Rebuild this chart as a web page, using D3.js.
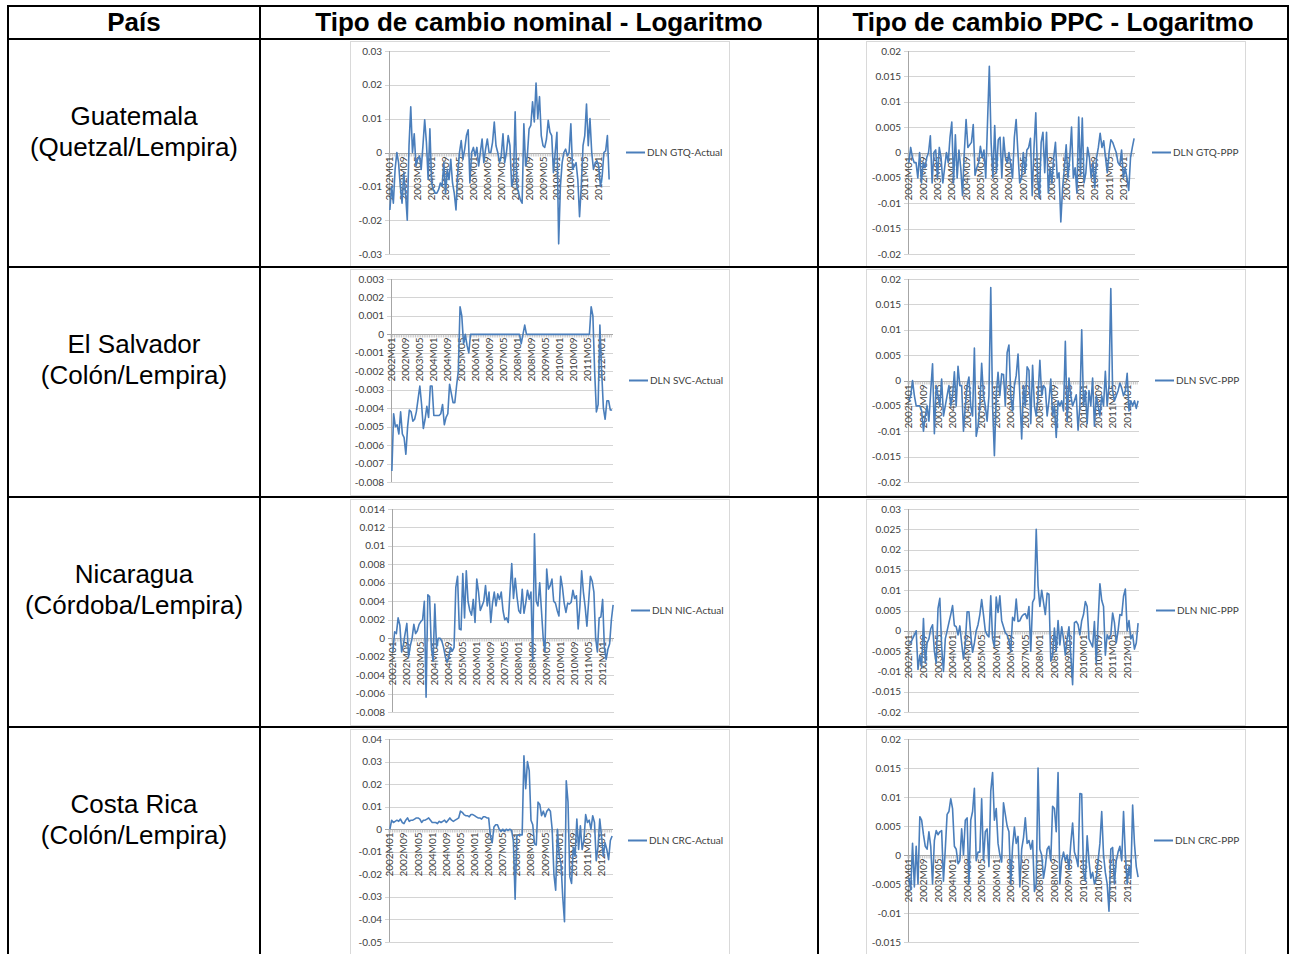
<!DOCTYPE html>
<html>
	<head>
		<meta charset="utf-8">
		<script src="https://cdnjs.cloudflare.com/ajax/libs/d3/7.8.5/d3.min.js" charset="utf-8"></script>
		<style>
			body { margin: 0; background: #fff; }
		</style>
	</head>
	<body>
		<div id="chart"></div>

		<script>

////// Data //////

	// monthly categories 2002M01 .. 2012M07
	var months = [];
	for (var yr = 2002; yr <= 2012; yr++) {
		for (var mo = 1; mo <= 12; mo++) {
			if (yr == 2012 && mo > 7) break;
			months.push(yr + "M" + (mo < 10 ? "0" + mo : mo));
		}
	}

	var headers = ["País", "Tipo de cambio nominal - Logaritmo", "Tipo de cambio PPC - Logaritmo"];
	var countries = [["Guatemala", "(Quetzal/Lempira)"], ["El Salvador", "(Colón/Lempira)"],
		["Nicaragua", "(Córdoba/Lempira)"], ["Costa Rica", "(Colón/Lempira)"]];
	var seriesNames = [["DLN GTQ-Actual", "DLN GTQ-PPP"], ["DLN SVC-Actual", "DLN SVC-PPP"],
		["DLN NIC-Actual", "DLN NIC-PPP"], ["DLN CRC-Actual", "DLN CRC-PPP"]];

	var gtqActual = [
		-0.017,-0.010,-0.015,-0.005,0.000,-0.003,-0.010,-0.015,-0.006,-0.012,
		-0.020,0.002,0.0135,0.000,0.0055,-0.004,-0.002,-0.001,-0.005,0.002,
		0.0097,0.003,-0.008,0.007,-0.009,-0.011,-0.012,-0.012,-0.011,-0.009,
		-0.010,-0.003,-0.012,-0.005,-0.008,-0.002,-0.009,-0.012,-0.017,-0.006,
		0.000,0.0035,-0.002,0.001,0.005,0.0067,-0.009,0.000,0.0015,-0.001,
		0.0015,-0.004,0.000,0.004,-0.003,0.001,0.004,0.000,0.000,0.003,
		0.009,0.002,0.000,-0.003,-0.001,0.0055,-0.003,0.000,0.005,0.002,
		-0.010,-0.008,0.012,-0.010,-0.012,-0.014,-0.015,0.0085,-0.004,-0.001,
		0.007,0.008,0.015,0.009,0.0205,0.010,0.0165,0.005,0.002,0.0015,
		0.004,0.0095,0.006,0.005,-0.006,0.000,0.006,-0.027,-0.010,-0.003,
		0.000,0.001,-0.001,0.000,0.0085,-0.005,-0.004,-0.003,-0.008,-0.019,
		-0.010,0.002,0.005,0.0143,0.002,0.010,0.000,-0.005,-0.003,-0.0025,
		-0.004,-0.010,-0.007,0.000,0.0005,0.005,-0.008];

	var gtqPPP = [
		-0.002,0.001,-0.001,-0.002,-0.002,-0.005,0.000,-0.006,-0.002,-0.003,
		-0.001,0.000,0.0033,-0.006,0.000,0.0005,-0.005,0.001,-0.001,-0.006,
		-0.003,0.000,-0.002,0.003,0.006,-0.006,0.0035,-0.005,0.0005,-0.003,
		-0.0085,0.000,0.0065,0.001,0.0015,0.002,0.0055,-0.0045,-0.003,-0.002,
		0.0012,-0.001,0.0005,-0.005,0.006,0.017,0.002,-0.005,0.0053,-0.004,
		0.0025,0.003,-0.005,0.003,-0.001,-0.002,0.000,-0.0025,-0.005,0.003,
		0.0065,0.000,-0.006,-0.005,0.000,-0.004,0.0005,0.001,0.0028,-0.0085,
		0.001,0.0078,-0.005,-0.009,0.002,0.004,-0.004,0.004,-0.008,-0.003,
		-0.006,-0.001,0.002,-0.005,-0.004,-0.0137,-0.007,-0.003,0.0015,-0.005,
		-0.001,0.005,-0.005,-0.003,-0.008,0.007,-0.0045,0.0068,-0.006,-0.004,
		0.001,-0.001,-0.005,-0.002,-0.007,-0.001,0.001,0.0038,0.001,0.0023,
		-0.001,-0.004,0.000,0.0025,0.002,0.001,0.000,-0.002,-0.0025,0.0005,
		-0.005,-0.003,-0.005,-0.0075,-0.001,0.001,0.0028];

	var svcActual = [
		-0.0074,-0.0043,-0.0050,-0.0049,-0.0054,-0.0042,-0.0054,-0.0056,-0.0065,-0.0050,
		-0.0041,-0.0042,-0.0047,-0.0046,-0.0042,-0.0035,-0.0028,-0.0038,-0.0051,-0.0046,
		-0.0039,-0.0045,-0.0028,-0.0028,-0.0044,-0.0044,-0.0044,-0.0044,-0.0043,-0.0038,
		-0.0049,-0.0045,-0.0043,-0.0027,-0.0032,-0.0037,-0.0037,-0.0028,-0.0020,0.0015,
		0.0010,-0.0005,0,-0.0006,-0.0010,0,0,0,0,0,
		0,0,0,0,0,0,0,0,0,0,
		0,0,0,0,0,0,0,0,0,0,
		0,0,0,0,-0.0005,0,0.0005,0,0,0,
		0,0,0,0,0,0,0,0,0,0,
		0,0,0,0,0,0,0,0,0,0,
		0,0,0,0,0,0,0,0,0,0,
		0,0,0,0,0.0015,0.0010,-0.0020,-0.0042,-0.0038,0.0005,
		-0.0020,-0.0040,-0.0046,-0.0036,-0.0036,-0.0041,-0.0041];

	var svcPPP = [
		-0.004,-0.003,0.000,-0.003,-0.005,-0.005,-0.005,-0.006,-0.010,-0.007,
		-0.005,-0.008,-0.002,0.0033,-0.0105,-0.001,-0.003,-0.005,0.0003,-0.007,
		-0.005,-0.003,-0.001,-0.005,-0.003,0.0017,-0.005,0.0028,-0.001,-0.001,
		-0.010,-0.005,-0.001,0.0007,-0.005,-0.007,0.0064,-0.011,-0.009,-0.005,
		0.0034,-0.003,-0.005,-0.008,-0.003,0.0183,-0.005,-0.0148,-0.003,0.0016,
		-0.003,0.0013,0.0012,-0.005,0.0055,0.007,-0.003,-0.006,-0.001,0.001,
		0.0052,-0.003,-0.0115,-0.001,-0.005,0.0027,0.002,-0.0085,0.003,-0.005,
		-0.007,-0.003,0.004,-0.003,-0.001,-0.0015,-0.007,-0.004,0.0003,-0.007,
		-0.005,-0.0112,-0.004,-0.005,-0.004,-0.006,0.0077,-0.008,0.0005,-0.003,
		-0.005,-0.004,-0.0028,-0.0098,-0.005,0.010,-0.005,-0.002,-0.0085,-0.002,
		-0.005,0.0005,-0.009,-0.003,-0.005,-0.007,-0.003,-0.005,0.0018,-0.005,
		-0.001,0.0181,-0.002,-0.004,-0.003,-0.002,-0.0005,-0.0015,-0.003,-0.002,
		0.0014,-0.006,-0.004,-0.005,-0.004,-0.0055,-0.004];

	var nicActual = [
		-0.0015,0.0007,0.0005,0.0022,0.0014,-0.0015,-0.0007,0.0005,0.0016,-0.0020,
		-0.0008,0.0000,0.0015,0.0005,0.0008,0.0015,0.0018,0.0020,0.0040,-0.0064,
		0.0047,0.0045,-0.0010,-0.0025,0.0037,-0.0010,0.0000,0.0000,-0.0003,-0.0010,
		-0.0020,-0.0026,-0.0020,-0.0010,-0.0014,-0.0010,0.0055,0.0067,0.0010,0.0009,
		0.0070,0.0022,0.0073,0.0040,0.0030,0.0025,0.0042,0.0017,0.0064,0.0050,
		0.0030,0.0035,0.0040,0.0057,0.0035,0.0050,0.0017,0.0038,0.0050,0.0035,
		0.0048,0.0042,0.0050,0.0030,0.0020,0.0022,0.0017,0.0050,0.0081,0.0043,
		0.0065,0.0045,0.0030,0.0027,0.0053,0.0027,0.0038,0.0052,0.0042,0.0050,
		-0.0025,0.0113,0.0040,0.0035,0.0060,0.0030,0.0000,-0.0015,0.0075,0.0053,
		0.0057,0.0064,0.0040,0.0038,0.0030,0.0024,0.0067,0.0055,0.0038,0.0028,
		0.0038,0.0037,0.0039,0.0052,0.0043,0.0046,0.0010,0.0035,0.0073,0.0050,
		0.0034,0.0013,0.0040,0.0067,0.0062,0.0050,0.0000,-0.0015,0.0022,0.0023,
		0.0042,-0.0010,-0.0023,-0.0012,-0.0006,0.0020,0.0036];

	var nicPPP = [
		-0.003,-0.003,-0.002,-0.001,0.000,-0.0095,-0.006,-0.009,0.003,-0.008,
		-0.003,-0.002,0.0005,0.0015,-0.005,-0.008,0.0055,0.008,-0.004,-0.010,
		-0.002,0.000,0.002,0.004,0.0062,0.0013,0.001,-0.001,0.0012,-0.003,
		-0.007,-0.003,0.0047,0.0047,-0.001,-0.0053,-0.003,0.000,0.0015,0.004,
		0.0077,0.004,0.000,-0.001,-0.0015,0.0086,-0.002,-0.004,0.0083,0.0045,
		0.0086,0.0025,0.001,-0.0005,-0.001,-0.0025,-0.005,0.0033,0.0025,0.0078,
		0.0023,0.0025,0.0035,0.004,0.0042,0.003,0.006,-0.005,0.007,0.008,
		0.025,0.011,0.006,0.010,0.007,0.004,0.0093,0.009,-0.0075,-0.006,
		0.0007,-0.005,0.0025,-0.0035,0.001,-0.002,-0.006,-0.002,0.001,-0.006,
		-0.0133,0.002,0.0023,0.0015,-0.001,0.0025,0.004,0.0072,0.006,-0.002,
		-0.003,-0.004,0.0023,-0.008,0.002,0.0116,0.0075,0.006,-0.006,-0.001,
		-0.002,-0.001,0.0044,0.002,-0.003,0.000,0.004,0.0038,0.0085,0.0103,
		0.000,0.0025,-0.002,-0.001,-0.0045,-0.003,0.0019];

	var crcActual = [
		0.000,0.004,0.003,0.0035,0.004,0.0035,0.0045,0.003,0.0025,0.004,
		0.005,0.0035,0.004,0.004,0.0045,0.005,0.005,0.0045,0.003,0.004,
		0.004,0.0045,0.005,0.004,0.003,0.003,0.003,0.0025,0.0035,0.003,
		0.0035,0.004,0.003,0.004,0.005,0.004,0.0035,0.004,0.0045,0.005,
		0.008,0.0075,0.0065,0.006,0.006,0.0055,0.0065,0.0065,0.006,0.0055,
		0.005,0.005,0.0045,0.0055,0.0055,0.005,0.005,-0.003,-0.006,0.001,
		0.002,0.002,0.000,-0.001,0.000,-0.001,0.000,-0.0005,0.000,-0.0005,
		-0.005,-0.031,-0.003,-0.0025,-0.0025,-0.0025,0.0325,0.018,0.030,0.026,
		0.004,0.002,-0.0065,-0.007,0.012,0.011,0.006,0.008,0.0055,0.008,
		0.009,0.008,0.000,-0.020,-0.027,0.000,-0.012,-0.015,-0.030,-0.041,
		0.0215,0.012,-0.021,-0.024,-0.008,-0.012,0.0045,-0.009,0.0015,-0.009,
		-0.005,0.0065,0.003,0.004,0.000,0.006,0.003,-0.014,-0.008,0.0045,
		-0.003,-0.012,-0.006,-0.009,-0.0135,-0.005,-0.003];

	var crcPPP = [
		-0.004,-0.006,0.002,-0.0055,0.0015,-0.005,0.0066,0.006,0.0035,0.0015,
		0.001,0.004,0.0015,-0.005,0.0025,0.0042,0.0035,0.004,0.0042,-0.0045,
		0.001,0.007,0.0075,0.0097,0.008,0.0015,0.001,-0.0015,-0.001,0.0045,
		0.000,0.006,0.0064,-0.005,0.006,0.0075,0.0115,-0.001,0.0005,0.0005,
		0.0097,-0.001,0.004,0.0045,-0.002,0.011,0.0142,0.006,0.008,0.002,
		0.000,-0.0012,0.009,0.007,0.005,0.004,-0.005,0.0015,0.0048,0.002,
		0.0032,-0.0055,0.001,0.003,0.0064,0.002,0.0025,0.001,0.0025,-0.0063,
		-0.005,0.015,0.001,0.000,-0.004,-0.002,0.001,0.0015,-0.001,0.0084,
		0.008,0.004,0.0142,-0.005,-0.001,0.0005,-0.001,0.000,-0.0025,0.002,
		0.0055,0.0005,-0.0005,-0.002,0.0106,0.0105,-0.003,-0.0045,0.0033,-0.001,
		-0.004,-0.003,-0.005,-0.004,-0.001,0.002,0.0075,0.000,-0.003,-0.005,
		-0.0097,0.001,0.0013,-0.005,-0.001,0.0005,0.0015,-0.001,0.0075,0.000,
		-0.005,-0.002,-0.004,0.0086,0.002,-0.002,-0.0038];

	// y tick values of each small chart
	var ticksGTQActual = [-0.03, -0.02, -0.01, 0, 0.01, 0.02, 0.03];
	var ticksGTQPPP = [-0.02, -0.015, -0.01, -0.005, 0, 0.005, 0.01, 0.015, 0.02];
	var ticksSVCActual = [-0.008, -0.007, -0.006, -0.005, -0.004, -0.003, -0.002, -0.001, 0, 0.001, 0.002, 0.003];
	var ticksSVCPPP = [-0.02, -0.015, -0.01, -0.005, 0, 0.005, 0.01, 0.015, 0.02];
	var ticksNICActual = [-0.008, -0.006, -0.004, -0.002, 0, 0.002, 0.004, 0.006, 0.008, 0.01, 0.012, 0.014];
	var ticksNICPPP = [-0.02, -0.015, -0.01, -0.005, 0, 0.005, 0.01, 0.015, 0.02, 0.025, 0.03];
	var ticksCRCActual = [-0.05, -0.04, -0.03, -0.02, -0.01, 0, 0.01, 0.02, 0.03, 0.04];
	var ticksCRCPPP = [-0.015, -0.01, -0.005, 0, 0.005, 0.01, 0.015, 0.02];

	var seriesValues = [[gtqActual, gtqPPP], [svcActual, svcPPP], [nicActual, nicPPP], [crcActual, crcPPP]];
	var seriesTicks = [[ticksGTQActual, ticksGTQPPP], [ticksSVCActual, ticksSVCPPP],
		[ticksNICActual, ticksNICPPP], [ticksCRCActual, ticksCRCPPP]];

////// Layout //////

	var W = 1289, H = 954;
	var rowTops = [39, 267, 497, 727];
	var colLines = [8, 260, 818, 1288];
	var frames = [[350, 729], [866, 1245]];
	// plot left / right and legend start, per row and column
	var plotBox = [
		[[389, 610, 626], [908, 1135, 1152]],
		[[391, 613, 629], [908, 1139, 1155]],
		[[392, 614, 631], [908, 1139, 1156]],
		[[389, 613, 628], [908, 1139, 1154]]
	];
	var blue = "#4a7ebb";
	var smallFont = "Lato, 'Open Sans', sans-serif";
	var bigFont = "'Liberation Sans', Arial, sans-serif";

	var svg = d3.select("#chart")
		.append("svg")
		.attr("width", W)
		.attr("height", H);

	svg.append("rect").attr("width", W).attr("height", H).attr("fill", "#fff");

////// Small charts //////

	rowTops.forEach(function(top, r) {
		[0, 1].forEach(function(c) {
			var values = seriesValues[r][c];
			var ticks = seriesTicks[r][c];
			var pb = plotBox[r][c];
			var y0px = top + 12, y1px = top + 215;

			var g = svg.append("g");

			// chart frame
			g.append("rect")
				.attr("x", frames[c][0] + 0.5)
				.attr("y", top + 2.5)
				.attr("width", frames[c][1] - frames[c][0])
				.attr("height", r == 3 ? 240 : 226)
				.attr("fill", "#fff")
				.attr("stroke", "#d9d9d9");

			var x = d3.scaleBand().domain(months).range([pb[0], pb[1]]);
			var y = d3.scaleLinear().domain([ticks[0], ticks[ticks.length - 1]]).range([y1px, y0px]);

			// gridlines + y labels
			g.selectAll(".grid")
				.data(ticks)
				.enter().append("line")
				.attr("x1", pb[0] - 4)
				.attr("x2", pb[1])
				.attr("y1", function(d) { return Math.round(y(d)) + 0.5; })
				.attr("y2", function(d) { return Math.round(y(d)) + 0.5; })
				.attr("stroke", function(d) { return d == 0 ? "#a6a6a6" : "#d4d4d4"; });

			g.selectAll(".ylab")
				.data(ticks)
				.enter().append("text")
				.attr("x", pb[0] - 7)
				.attr("y", function(d) { return y(d); })
				.attr("dy", "0.35em")
				.attr("text-anchor", "end")
				.style("font-family", smallFont)
				.style("font-size", "10px")
				.style("fill", "#404040")
				.text(function(d) { return String(d); });

			// y axis line
			g.append("line")
				.attr("x1", pb[0] + 0.5).attr("x2", pb[0] + 0.5)
				.attr("y1", y1px).attr("y2", y0px)
				.attr("stroke", "#a6a6a6");

			// category ticks on the zero line
			var zy = Math.round(y(0)) + 0.5;
			g.selectAll(".xtick")
				.data(months)
				.enter().append("line")
				.attr("x1", function(d) { return x(d); })
				.attr("x2", function(d) { return x(d); })
				.attr("y1", zy)
				.attr("y2", zy + 3)
				.attr("stroke", "#b8b8b8")
				.attr("stroke-width", 0.8);

			// rotated category labels
			g.selectAll(".xlab")
				.data(months.filter(function(d, i) { return i % 8 == 0; }))
				.enter().append("text")
				.attr("transform", function(d) {
					return "translate(" + (x(d) + x.bandwidth() / 2) + "," + (zy + 3) + ") rotate(-90)";
				})
				.attr("dy", "0.35em")
				.attr("text-anchor", "end")
				.style("font-family", smallFont)
				.style("font-size", "10px")
				.style("fill", "#404040")
				.text(function(d) { return d; });

			// series line
			var line = d3.line()
				.x(function(d, i) { return x(months[i]) + x.bandwidth() / 2; })
				.y(function(d) { return y(d); });

			g.append("path")
				.datum(values)
				.attr("d", line)
				.attr("fill", "none")
				.attr("stroke", blue)
				.attr("stroke-width", 1.6)
				.attr("stroke-linejoin", "round");

			// legend
			var ly = (y0px + y1px) / 2;
			g.append("line")
				.attr("x1", pb[2]).attr("x2", pb[2] + 19)
				.attr("y1", ly).attr("y2", ly)
				.attr("stroke", blue)
				.attr("stroke-width", 2);
			g.append("text")
				.attr("x", pb[2] + 21)
				.attr("y", ly)
				.attr("dy", "0.35em")
				.style("font-family", smallFont)
				.style("font-size", "10px")
				.style("fill", "#404040")
				.text(seriesNames[r][c]);
		});

		// country name
		svg.selectAll(".country" + r)
			.data(countries[r])
			.enter().append("text")
			.attr("x", (colLines[0] + colLines[1]) / 2)
			.attr("y", function(d, i) { return top + 86 + i * 31; })
			.attr("text-anchor", "middle")
			.style("font-family", bigFont)
			.style("font-size", "26px")
			.style("fill", "#000")
			.text(function(d) { return d; });
	});

////// Table header and borders //////

	svg.selectAll(".header")
		.data(headers)
		.enter().append("text")
		.attr("x", function(d, i) { return (colLines[i] + colLines[i + 1]) / 2; })
		.attr("y", 31)
		.attr("text-anchor", "middle")
		.style("font-family", bigFont)
		.style("font-size", "26px")
		.style("font-weight", "bold")
		.style("fill", "#000")
		.text(function(d) { return d; });

	var hLines = [6].concat(rowTops);
	svg.selectAll(".hline")
		.data(hLines)
		.enter().append("line")
		.attr("x1", colLines[0] - 1)
		.attr("x2", colLines[3] + 1)
		.attr("y1", function(d) { return d; })
		.attr("y2", function(d) { return d; })
		.attr("stroke", "#000")
		.attr("stroke-width", 2);

	svg.selectAll(".vline")
		.data(colLines)
		.enter().append("line")
		.attr("x1", function(d) { return d; })
		.attr("x2", function(d) { return d; })
		.attr("y1", 5)
		.attr("y2", H)
		.attr("stroke", "#000")
		.attr("stroke-width", 2);

		</script>
	</body>
</html>
